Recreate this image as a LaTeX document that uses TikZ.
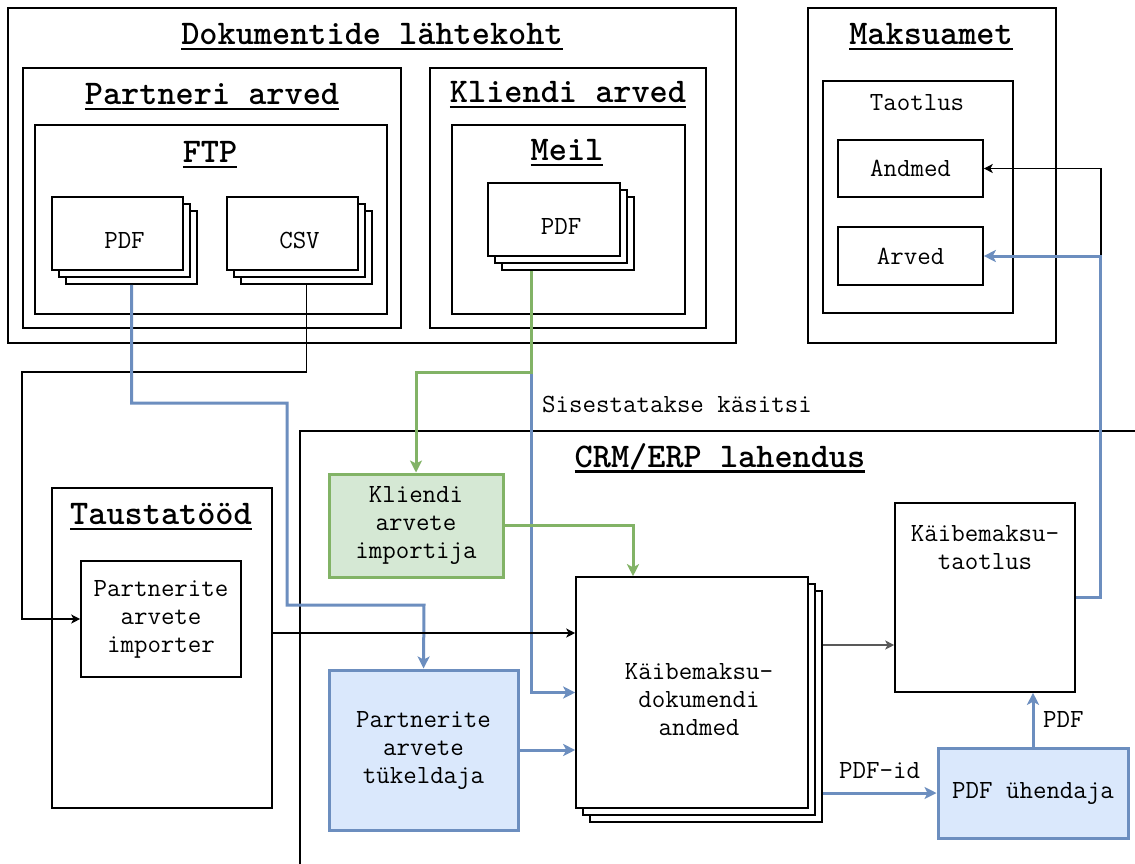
\documentclass[tikz,border=0pt]{standalone}
\usetikzlibrary{arrows.meta, shadows}

\definecolor{bluefill}{HTML}{DAE8FC}
\definecolor{blueline}{HTML}{6C8EBF}
\definecolor{greenfill}{HTML}{D5E8D4}
\definecolor{greenline}{HTML}{82B366}

% bold heading with a heavy underline
\newcommand{\hdl}[1]{\setbox0\hbox{#1}\rlap{\rule[-2.8pt]{\wd0}{1.2pt}}\box0}

\begin{document}
\begin{tikzpicture}[x=0.5pt, y=-0.5pt,
  >={Stealth[length=4.5pt,width=4.5pt,inset=1.2pt]},
  font=\ttfamily\fontsize{13.1}{14}\selectfont,
  grp/.style={draw, line width=0.8pt, inner sep=0pt},
  ttl/.style={font=\ttfamily\fontsize{17.3}{19}\selectfont\bfseries, inner sep=0pt},
  bx/.style={draw, fill=white, line width=0.8pt, align=center, inner sep=0pt},
  docs/.style={bx,
    copy shadow={shadow xshift=7pt, shadow yshift=-7pt, line width=0.8pt},
    copy shadow={shadow xshift=3.5pt, shadow yshift=-3.5pt, line width=0.8pt}},
  bluebx/.style={draw=blueline, fill=bluefill, line width=1.5pt, align=center},
  greenbx/.style={draw=greenline, fill=greenfill, line width=1.5pt, align=center},
  ln/.style={line width=0.7pt},
  bl/.style={draw=blueline, line width=1.5pt, >={Stealth[length=6pt,width=6pt,inset=1.5pt]}},
  gr/.style={draw=greenline, line width=1.5pt, >={Stealth[length=6pt,width=6pt,inset=1.5pt]}}]
  \useasboundingbox[fill=white] (0,0) rectangle (1135,863);

  % sources of the documents
  \node[grp, minimum width=364pt, minimum height=167.5pt] (src) at (372,175.5) {};
  \node[ttl] (srct) at (372,37) {\hdl{Dokumentide lähtekoht}};
  \node[grp, minimum width=189pt, minimum height=130pt] (partner) at (212,198) {};
  \node[ttl] (partnert) at (212,97) {\hdl{Partneri arved}};
  \node[grp, minimum width=176pt, minimum height=94.5pt] (ftp) at (211,219.5) {};
  \node[ttl] (ftpt) at (210,155) {\hdl{FTP}};
  \node[docs, minimum width=65.5pt, minimum height=36.5pt,
    label={[xshift=3.5pt, yshift=-3.5pt]center:PDF}] (pdf) at (117.5,233.5) {};
  \node[docs, minimum width=65.5pt, minimum height=36.5pt,
    label={[xshift=3.5pt, yshift=-3.5pt]center:CSV}] (csv) at (292.5,233.5) {};

  \node[grp, minimum width=138pt, minimum height=130pt] (client) at (568,198) {};
  \node[ttl] (clientt) at (568,95) {\hdl{Kliendi arved}};
  \node[grp, minimum width=116.5pt, minimum height=94.5pt] (mail) at (568.5,219.5) {};
  \node[ttl] (mailt) at (567,153) {\hdl{Meil}};
  \node[docs, minimum width=66pt, minimum height=36.5pt,
    label={[xshift=3.5pt, yshift=-3.5pt]center:PDF}] (mpdf) at (554,219.5) {};

  % tax board
  \node[grp, minimum width=124pt, minimum height=167.5pt] (tax) at (932,175.5) {};
  \node[ttl] (taxt) at (931,37) {\hdl{Maksuamet}};
  \node[grp, minimum width=95pt, minimum height=116pt] (appl) at (918,197) {};
  \node (applt) at (917,103) {Taotlus};
  \node[bx, minimum width=72.5pt, minimum height=28.5pt] (andmed) at (910.5,168.5) {Andmed};
  \node[bx, minimum width=72.5pt, minimum height=29pt] (arved) at (910.5,256) {Arved};

  % background jobs
  \node[grp, minimum width=110pt, minimum height=160pt] (taust) at (162,648) {};
  \node[ttl] (tausttl) at (161,517) {\hdl{Taustatööd}};
  \node[bx, minimum width=80pt, minimum height=58pt] (imp) at (161,619) {Partnerite\\arvete\\importer};

  % CRM/ERP
  \node[grp, minimum width=430pt, minimum height=234.5pt] (crm) at (730,665.5) {};
  \node[ttl] (crmt) at (720,458) {\hdl{CRM/ERP lahendus}};
  \node[greenbx, minimum width=87pt, minimum height=51.5pt] (kimp) at (416,525.5) {Kliendi\\arvete\\importija};
  \node[docs, minimum width=116pt, minimum height=115.5pt,
    label={[xshift=3.5pt, yshift=-3.5pt, align=center]center:Käibemaksu-\\dokumendi\\andmed}] (kmd) at (692,692.5) {};
  \node[bluebx, minimum width=94.5pt, minimum height=80pt] (tuk) at (423.5,750) {Partnerite\\arvete\\tükeldaja};
  \node[bx, minimum width=90pt, minimum height=94.5pt,
    label={[anchor=north, yshift=-8pt, align=center]north:Käibemaksu-\\taotlus}] (taotl) at (985,597.5) {};
  \node[bluebx, minimum width=95pt, minimum height=45pt] (pdfu) at (1033,793) {PDF ühendaja};

  % connectors
  \draw[ln, ->] ([shift={(7pt,-7pt)}]csv.south) |- (22,372) |- (imp.west);
  \draw[bl, ->] ([shift={(7pt,-7pt)}]pdf.south) |- (287,403) |- (424,605) -- (tuk.north);
  \draw[bl, ->] ([shift={(-11.5pt,-7pt)}]mpdf.south) |- (kmd.west);
  \draw[gr, ->] ([shift={(-11.5pt,-7pt)}]mpdf.south) |- (416,372) -- (kimp.north);
  \node[anchor=west] (manual) at (535,404) {Sisestatakse käsitsi};
  \draw[gr, ->] (kimp.east) -| ([xshift=-29.5pt]kmd.north);
  \draw[ln, ->] ([yshift=7.5pt]taust.east) -- ([yshift=7.5pt]taust.east -| kmd.west);
  \draw[bl, ->] (tuk.east) -- (tuk.east -| kmd.west);
  \draw[ln, draw=black!65, line width=1.2pt, ->] ([shift={(7pt,23.75pt)}]kmd.east) -- ([yshift=23.75pt]kmd.east -| taotl.west);
  \draw[bl, ->] ([xshift=7pt]kmd.east |- pdfu.west) -- node[above=3pt] {PDF-id} (pdfu.west);
  \draw[bl, ->] (pdfu.north) -- node[right=1pt] {PDF} (pdfu.north |- taotl.south);
  \draw[ln, ->] (taotl.east) -- ++(12.5pt,0) |- (andmed.east);
  \draw[bl, ->] (taotl.east) -- ++(12.5pt,0) |- (arved.east);
\end{tikzpicture}
\end{document}
